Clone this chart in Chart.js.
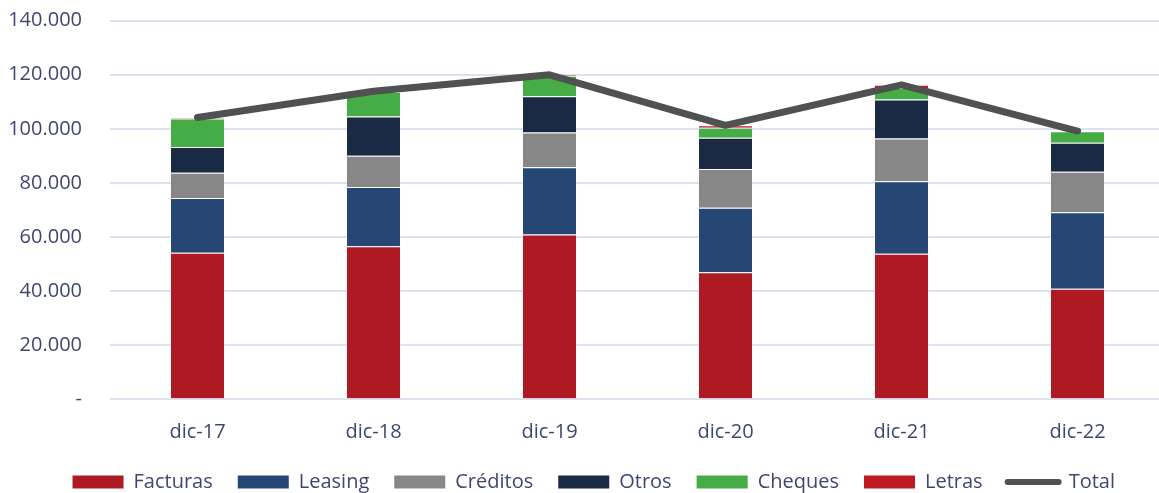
<!DOCTYPE html>
<html>
<head>
<meta charset="utf-8">
<script src="https://cdn.jsdelivr.net/npm/chart.js@4.4.1/dist/chart.umd.min.js"></script>
<style>
  html, body { margin: 0; padding: 0; background: #fff; overflow: hidden; }
  #wrap { width: 1166px; height: 502px; }
</style>
</head>
<body>
<div id="wrap"><canvas id="chart" width="1166" height="502"></canvas></div>
<script>
// values
const categories = ['dic-17', 'dic-18', 'dic-19', 'dic-20', 'dic-21', 'dic-22'];
const facturas = [54200, 56600, 60900, 47000, 53800, 40900];
const leasing  = [20200, 21900, 24900, 23800, 26800, 28300];
const creditos = [9400, 11600, 12900, 14400, 15800, 14900];
const otros    = [9500, 14500, 13400, 11500, 14500, 10800];
const cheques  = [10500, 9000, 7500, 3700, 4200, 4200];
const letras   = [400, 300, 400, 900, 1200, 100];
const total    = [104200, 113900, 120000, 101300, 116300, 99200];

const textColor = '#3f4770';
const fontFamily = '"Open Sans", "Noto Sans", sans-serif';

function barSet(label, data, color) {
    return {
        type: 'bar',
        label: label,
        data: data,
        backgroundColor: color,
        borderColor: 'rgba(255,255,255,0.35)',
        borderWidth: 1,
        stack: 'bars',
        categoryPercentage: 1,
        barPercentage: 0.3125,
        order: 1
    };
}

const datasets = [
    barSet('Facturas', facturas, '#ae1a24'),
    barSet('Leasing', leasing, '#264674'),
    barSet('Créditos', creditos, '#878787'),
    barSet('Otros', otros, '#1a2a45'),
    barSet('Cheques', cheques, '#46ac45'),
    barSet('Letras', letras, '#be1a24'),
    {
        type: 'line',
        label: 'Total',
        data: total,
        borderColor: '#505251',
        backgroundColor: '#505251',
        borderWidth: 7,
        borderCapStyle: 'round',
        borderJoinStyle: 'round',
        pointRadius: 0,
        tension: 0,
        stack: 'total',
        order: 0
    }
];

// legend sits a little right of the plot centre in the original
const legendShift = {
    id: 'legendShift',
    afterLayout(chart) {
        chart.legend.left += 11;
        chart.legend.right += 11;
    }
};

new Chart(document.getElementById('chart').getContext('2d'), {
    data: { labels: categories, datasets: datasets },
    plugins: [legendShift],
    options: {
        responsive: false,
        animation: false,
        devicePixelRatio: 1,
        layout: { padding: { left: 0, right: 0.5, top: 20.7, bottom: 0 } },
        scales: {
            x: {
                stacked: true,
                grid: { display: false, drawTicks: false },
                border: { display: false },
                ticks: { color: textColor, font: { family: fontFamily, size: 20 }, padding: 21 },
                afterFit: function(scale) { scale.height = 47.7; }
            },
            y: {
                stacked: true,
                min: 0,
                max: 140000,
                grid: { color: '#dde0ee', lineWidth: 2, drawTicks: false },
                border: { display: false },
                ticks: {
                    stepSize: 20000,
                    padding: 27.5,
                    color: textColor,
                    font: { family: fontFamily, size: 20 },
                    callback: function(value) {
                        if (value === 0) return '-';
                        return value.toLocaleString('de-DE');
                    }
                },
                afterFit: function(scale) {
                    scale.width = 109.5;
                    scale.paddingTop = 0;
                    scale.paddingBottom = 0;
                }
            }
        },
        plugins: {
            tooltip: { enabled: false },
            legend: {
                position: 'bottom',
                labels: {
                    color: textColor,
                    font: { family: fontFamily, size: 20 },
                    padding: 25,
                    usePointStyle: true,
                    pointStyleWidth: 51,
                    boxHeight: 13,
                    generateLabels: function(chart) {
                        return chart.data.datasets.map((ds, i) => {
                            const isLine = ds.type === 'line';
                            return {
                                text: ds.label,
                                fillStyle: ds.backgroundColor,
                                strokeStyle: isLine ? ds.borderColor : ds.backgroundColor,
                                lineWidth: isLine ? 6 : 0,
                                lineCap: 'round',
                                pointStyle: isLine ? 'line' : 'rect',
                                fontColor: textColor,
                                hidden: false,
                                datasetIndex: i
                            };
                        });
                    }
                }
            }
        }
    }
});
</script>
</body>
</html>
